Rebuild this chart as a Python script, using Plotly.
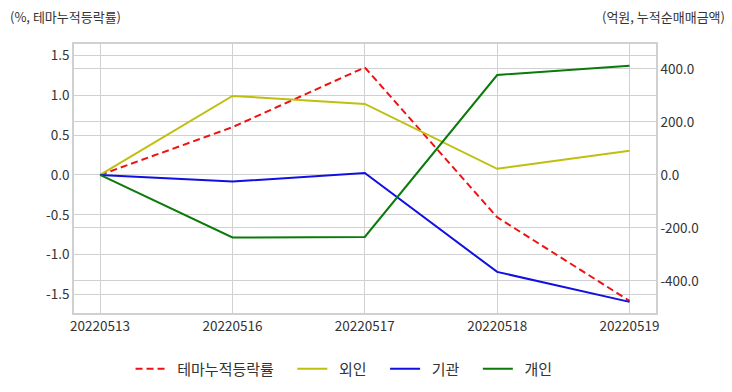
import plotly.graph_objects as go

dates = ["20220513", "20220516", "20220517", "20220518", "20220519"]
theme = [0.0, 0.60, 1.35, -0.53, -1.58]
foreign = [0.0, 298, 268, 23, 91]
inst = [0.0, -25, 7, -366, -479]
indiv = [0.0, -236, -234, 377, 412]
names = ["테마누적등락률", "외인", "기관", "개인"]
left_ticks = [-1.5, -1.0, -0.5, 0.0, 0.5, 1.0, 1.5]
right_ticks = [-400, -200, 0, 200, 400]

font = "Noto Sans CJK KR"
pad_l = "\u00a0\u00a0"
pad_r = "\u00a0\u00a0\u00a0\u00a0"
fig = go.Figure()
fig.add_trace(go.Scatter(x=dates, y=theme, name=pad_l + names[0] + pad_r, mode="lines",
                         line=dict(color="#ee1111", width=2, dash="7px,4px"), yaxis="y"))
fig.add_trace(go.Scatter(x=dates, y=foreign, name=pad_l + names[1] + pad_r, mode="lines",
                         line=dict(color="#bfbf10", width=2), yaxis="y2"))
fig.add_trace(go.Scatter(x=dates, y=inst, name=pad_l + names[2] + pad_r, mode="lines",
                         line=dict(color="#1010e0", width=2), yaxis="y2"))
fig.add_trace(go.Scatter(x=dates, y=indiv, name=pad_l + names[3], mode="lines",
                         line=dict(color="#0a7a0a", width=2), yaxis="y2"))

tf = dict(size=13.5, color="#333")
fig.update_layout(
    width=732, height=392,
    margin=dict(l=74, r=76, t=44, b=79, autoexpand=False),
    paper_bgcolor="white", plot_bgcolor="white",
    font=dict(family=font, size=13, color="#333"),
    showlegend=True,
    legend=dict(orientation="h", x=0.464, xanchor="center", y=-0.208, yanchor="middle",
                font=dict(size=15, color="#333"), tracegroupgap=0),
    xaxis=dict(type="category", range=[-0.197, 4.2], showgrid=True, gridcolor="#d0d0d0",
               showline=True, linecolor="#d0d0d0", mirror=True, linewidth=1.5,
               ticks="", tickfont=tf, automargin=False),
    yaxis=dict(range=[-1.732, 1.644], tickvals=left_ticks,
               ticktext=[f"{v:.1f}" for v in left_ticks],
               showgrid=True, gridcolor="#d0d0d0", zeroline=False,
               showline=True, linecolor="#d0d0d0", linewidth=1.5, ticks="",
               tickfont=tf, automargin=False),
    yaxis2=dict(range=[-521, 494], overlaying="y", side="right",
                tickvals=right_ticks, ticktext=[f"{v:.1f}" for v in right_ticks],
                showgrid=True, gridcolor="#d0d0d0", zeroline=False,
                showline=True, linecolor="#d0d0d0", linewidth=1.5, ticks="",
                tickfont=tf, automargin=False),
    annotations=[
        dict(text="(%, 테마누적등락률)", xref="paper", yref="paper", x=0, xanchor="left",
             xshift=-66, y=1, yshift=28, yanchor="middle", showarrow=False,
             font=dict(size=13, color="#333")),
        dict(text="(억원, 누적순매매금액)", xref="paper", yref="paper", x=1, xanchor="right",
             xshift=71, y=1, yshift=28, yanchor="middle", showarrow=False,
             font=dict(size=13, color="#333")),
    ],
)

fig.write_html("out.html", config={"displayModeBar": False},
               post_script="document.body.style.margin='0';document.body.style.overflow='hidden';")
